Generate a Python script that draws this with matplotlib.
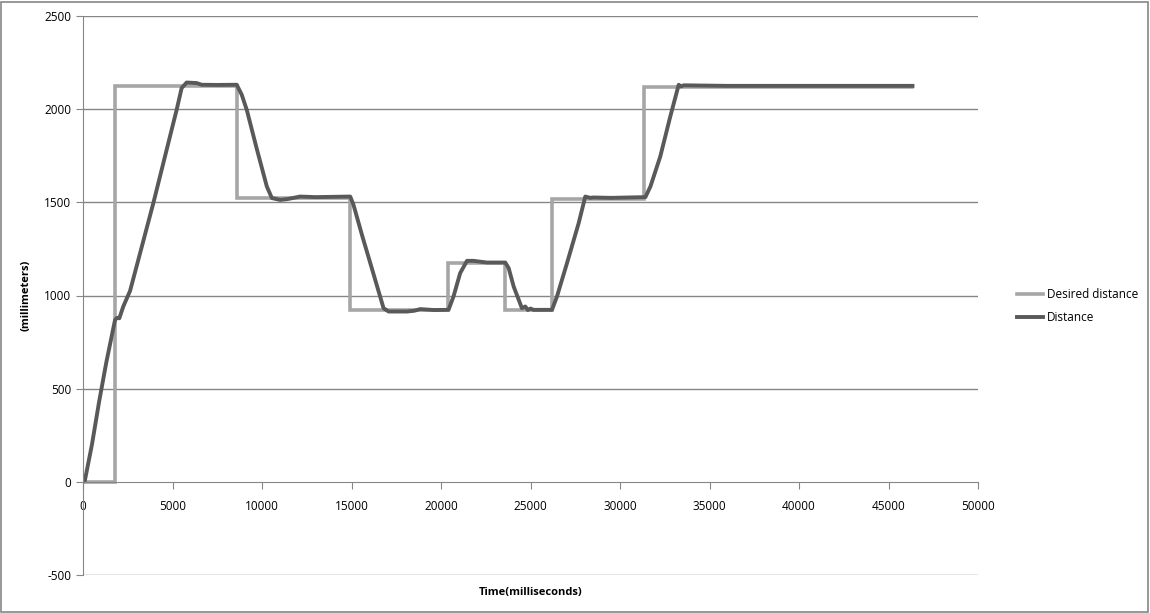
import matplotlib.pyplot as plt
from matplotlib.patches import Rectangle

plt.rcParams["font.family"] = ["Open Sans", "DejaVu Sans"]
plt.rcParams["axes.unicode_minus"] = False

# desired distance (step changes), time in ms
desired_t = [0, 1790, 8610, 14930, 20400, 23590, 26220, 31360, 46340]
desired_v = [0, 2125, 1525, 920, 1175, 920, 1520, 2120, 2120]

# measured distance
dist_t = [0, 100, 500, 900, 1300, 1790, 1900, 2030, 2250, 2630, 3100, 3930, 4600,
          5230, 5510, 5790, 6350, 6630, 7500, 8590, 8870, 9150, 9700, 10270, 10550,
          11010, 11400, 12130, 13000, 14930, 15110, 15600, 16200, 16790, 17070,
          18090, 18500, 18840, 19600, 20420, 20700, 21070, 21450, 21820, 22560,
          23590, 23780, 24060, 24520, 24710, 24850, 25000, 25170, 26200, 26480,
          27040, 27690, 28060, 28340, 28500, 29500, 31420, 31700, 32250, 32810,
          33280, 33400, 33560, 36000, 40000, 46340]
dist_v = [0, 5, 200, 430, 640, 869, 880, 878, 941, 1025, 1195, 1496, 1754,
          1996, 2113, 2143, 2140, 2131, 2130, 2131, 2077, 1996, 1790, 1585, 1523,
          1513, 1517, 1531, 1528, 1531, 1487, 1320, 1125, 932, 914,
          914, 918, 927, 922, 923, 995, 1120, 1186, 1186, 1177,
          1177, 1147, 1048, 932, 941, 922, 930, 923, 923, 995,
          1174, 1388, 1531, 1524, 1526, 1524, 1528, 1585, 1746, 1961,
          2131, 2122, 2128, 2125, 2125, 2125]

fig = plt.figure(figsize=(11.5, 6.13), dpi=100)
ax = fig.add_axes([83 / 1150, 1 - 575 / 613, 895 / 1150, 559 / 613])

ax.plot(desired_t, desired_v, drawstyle="steps-post", color="#a6a6a6", lw=2.6,
        label="Desired distance", solid_joinstyle="miter")
ax.plot(dist_t, dist_v, color="#595959", lw=2.8, label="Distance")

ax.set_xlim(0, 50000)
ax.set_ylim(-500, 2500)
ax.set_xticks(range(0, 50001, 5000))
ax.set_yticks(range(-500, 2501, 500))

grid_c = "#868686"
for y in [-500, 500, 1000, 1500, 2000, 2500]:
    ax.axhline(y, color=grid_c, lw=1, zorder=0)

for s in ["top", "right"]:
    ax.spines[s].set_visible(False)
ax.spines["bottom"].set_position(("data", 0))
ax.spines["bottom"].set_color(grid_c)
ax.spines["left"].set_color(grid_c)
ax.tick_params(axis="both", direction="out", length=5, color=grid_c, labelsize=8.5,
               labelcolor="black")
ax.tick_params(axis="x", pad=8)

ax.set_ylabel("(millimeters)", fontsize=8, fontweight="bold")
ax.yaxis.set_label_coords(-0.058, 0.5)
ax.set_xlabel("Time(milliseconds)", fontsize=8, fontweight="bold")
ax.xaxis.set_label_coords(0.5, -0.022)

ax.legend(loc="center left", bbox_to_anchor=(1006 / 1150, 1 - 306 / 613),
          bbox_transform=fig.transFigure, frameon=False, fontsize=8.5,
          handlelength=2.2, handletextpad=0.4, labelspacing=0.9)

fig.patches.append(Rectangle((1 / 1150, 1 / 613), 1147 / 1150, 610 / 613,
                             transform=fig.transFigure, fill=False,
                             edgecolor=grid_c, lw=1.2))

fig.savefig("out.png", dpi=100)
